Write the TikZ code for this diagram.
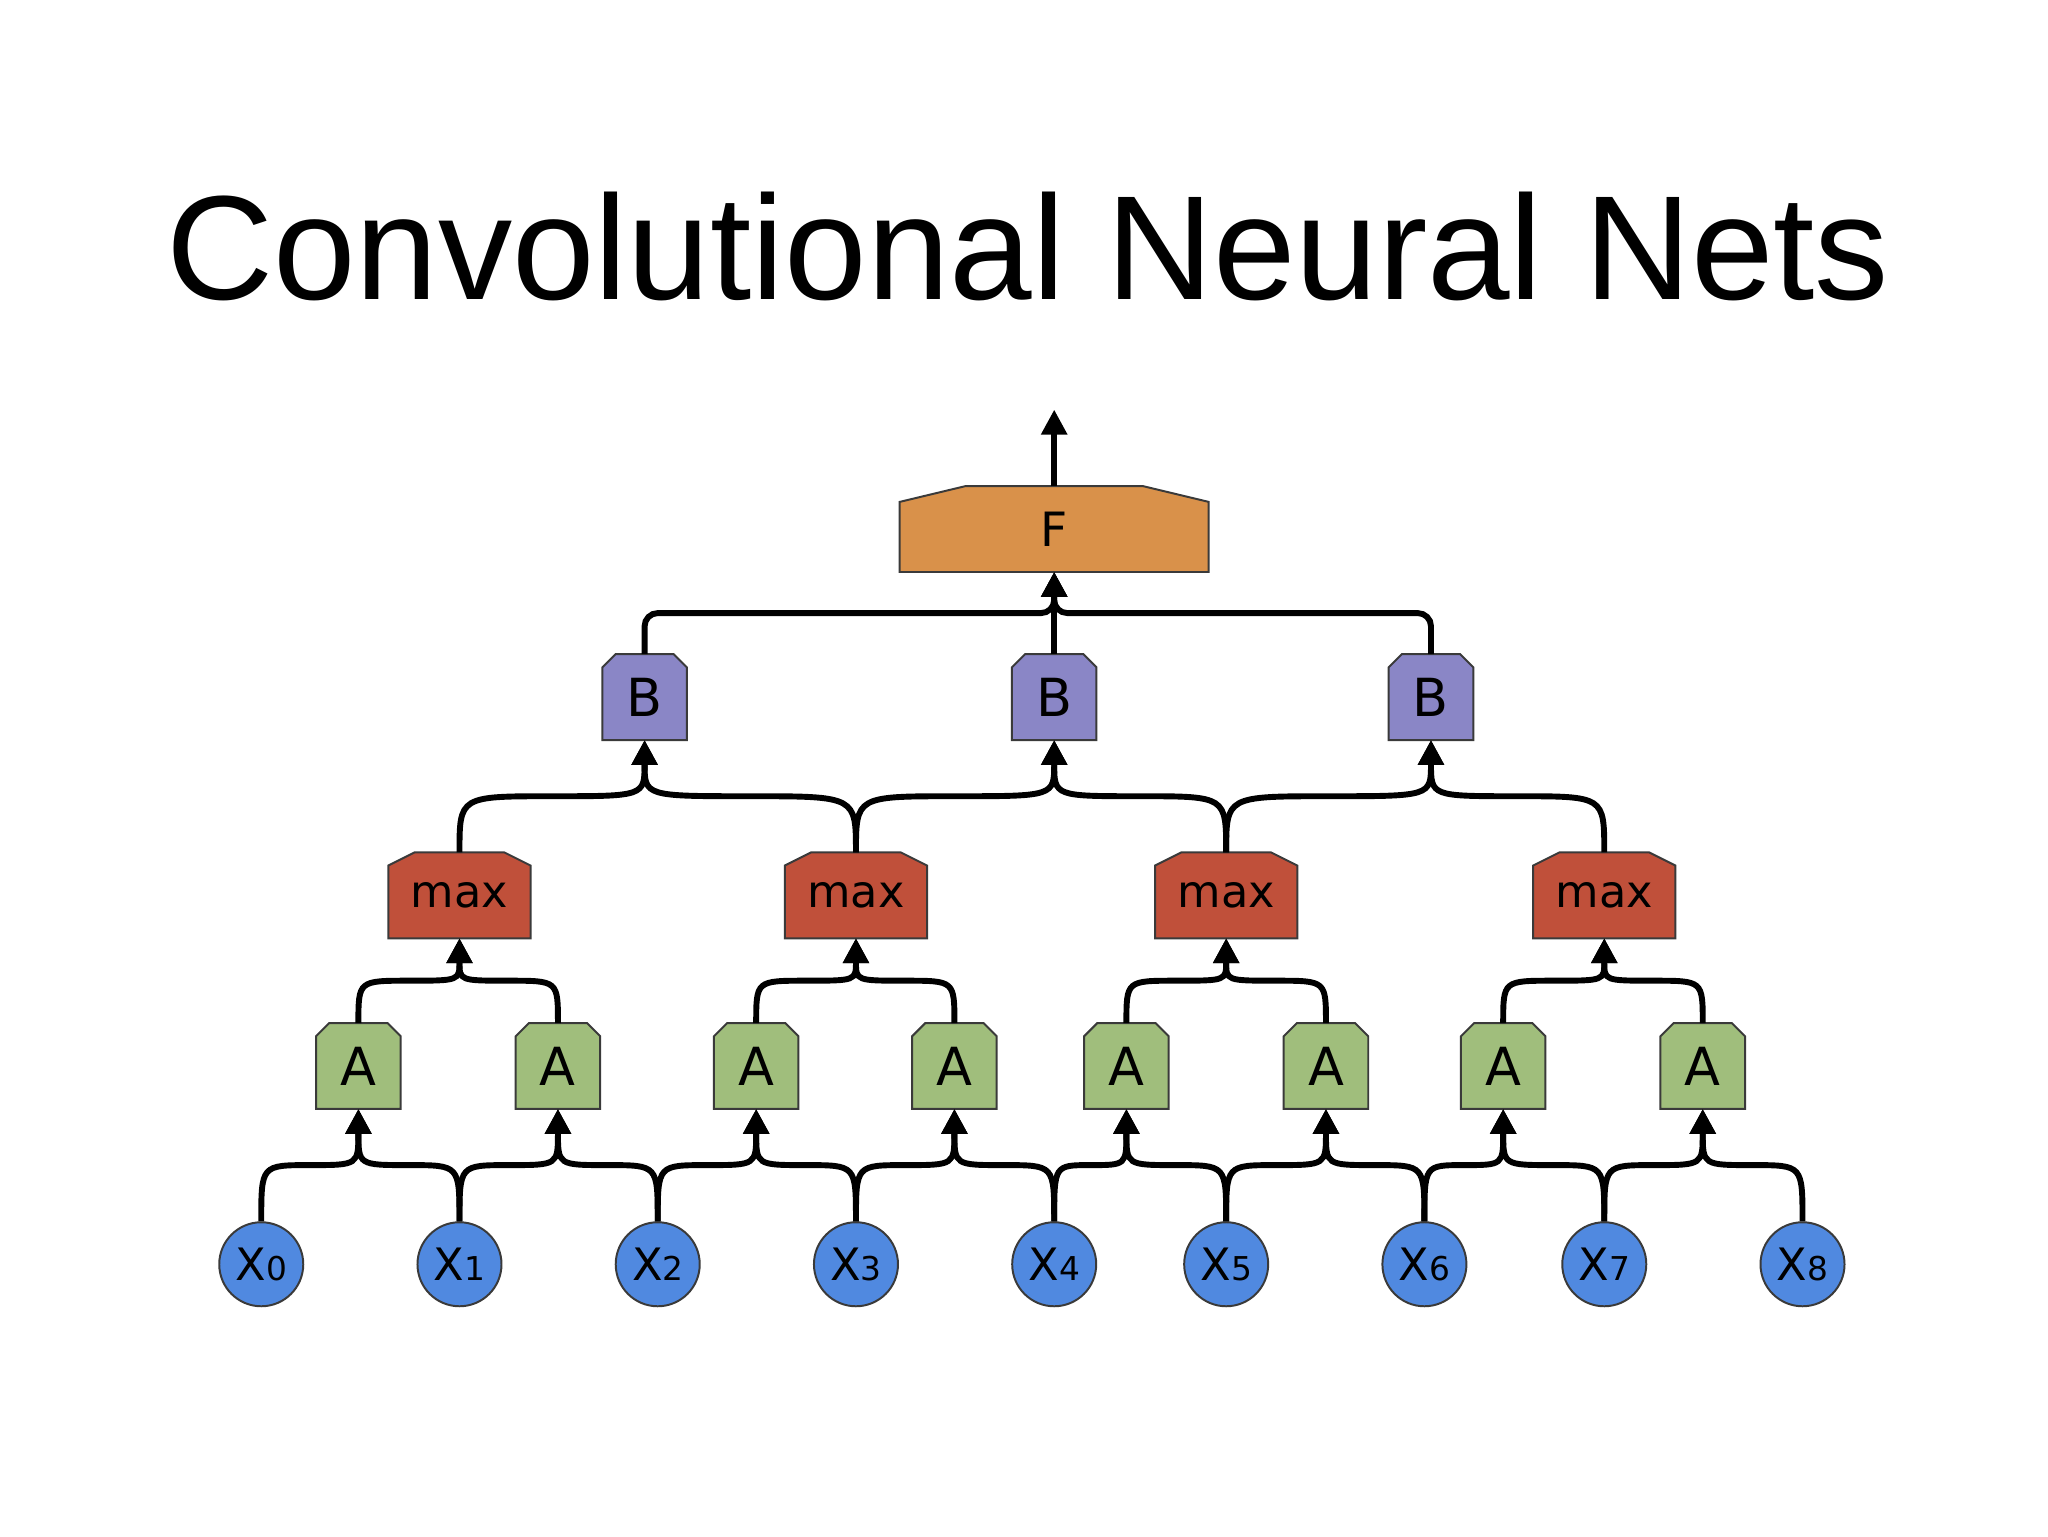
\documentclass[tikz,border=0pt]{standalone}
\usepackage{fontspec}
\setmainfont{Liberation Sans}
\newfontfamily\lblfont{DejaVu Sans}
\usetikzlibrary{calc,arrows.meta}
\definecolor{edge}{HTML}{3A3A3A}
\definecolor{cA}{HTML}{A0BE7C}
\definecolor{cM}{HTML}{C0503A}
\definecolor{cB}{HTML}{8A86C6}
\definecolor{cF}{HTML}{D9914A}
\definecolor{cX}{HTML}{5089E0}
\tikzset{
  box/.style={rectangle, inner sep=0pt, draw=none},
  lbl/.style={font=\lblfont\fontsize{40}{40}\selectfont, inner sep=0pt},
  conn/.style={line width=4.5pt, -{Triangle[length=19pt,width=19pt]}},
  xnode/.style={circle, minimum size=64pt, inner sep=0pt, fill=cX, draw=edge, line width=1.5pt}
}
\newcommand\cnode[9]{%
  \node[box, minimum width=#4pt, minimum height=#5pt] (#1) at (#2,#3) {};
  \filldraw[fill=#8, draw=edge, line width=1.5pt] (#1.south west) -- ($(#1.north west)+(0,#7)$) -- ($(#1.north west)+(#6,0)$) -- ($(#1.north east)+(-#6,0)$) -- ($(#1.north east)+(0,#7)$) -- (#1.south east) -- cycle;
  \node[lbl] at (#1) {#9};}
\newcommand\conn[2]{%
  \draw[conn] let \p1=(#1.north), \p2=(#2.south), \p3=($(\p1)!0.5!(\p2)$) in
    (\p1) .. controls (\x1,\y3) .. (\p3) .. controls (\x2,\y3) .. (\p2);}
\newcommand\xn[3]{\node[xnode] (#1) at (#2,963) {\lblfont\fontsize{34}{34}\selectfont X{\fontsize{25}{25}\selectfont #3}};}
\begin{document}
\begin{tikzpicture}[x=1pt,y=-1pt]
\useasboundingbox (0,0) rectangle (1560,1170);
\node[anchor=base, inner sep=0pt, font=\fontsize{113}{113}\selectfont] (title) at (783,228) {Convolutional Neural Nets};
% inputs
\xn{x0}{199}{0}\xn{x1}{350}{1}\xn{x2}{501}{2}\xn{x3}{652}{3}\xn{x4}{803}{4}
\xn{x5}{934}{5}\xn{x6}{1085}{6}\xn{x7}{1222}{7}\xn{x8}{1373}{8}
% A layer
\cnode{a0}{273}{812}{64}{65}{10}{10}{cA}{A}
\cnode{a1}{425}{812}{64}{65}{10}{10}{cA}{A}
\cnode{a2}{576}{812}{64}{65}{10}{10}{cA}{A}
\cnode{a3}{727}{812}{64}{65}{10}{10}{cA}{A}
\cnode{a4}{858}{812}{64}{65}{10}{10}{cA}{A}
\cnode{a5}{1010}{812}{64}{65}{10}{10}{cA}{A}
\cnode{a6}{1145}{812}{64}{65}{10}{10}{cA}{A}
\cnode{a7}{1297}{812}{64}{65}{10}{10}{cA}{A}
% max layer
\cnode{m0}{350}{682}{108}{65}{20}{10}{cM}{\fontsize{34}{34}\selectfont max}
\cnode{m1}{652}{682}{108}{65}{20}{10}{cM}{\fontsize{34}{34}\selectfont max}
\cnode{m2}{934}{682}{108}{65}{20}{10}{cM}{\fontsize{34}{34}\selectfont max}
\cnode{m3}{1222}{682}{108}{65}{20}{10}{cM}{\fontsize{34}{34}\selectfont max}
% B layer
\cnode{b0}{491}{531}{64}{65}{10}{10}{cB}{B}
\cnode{b1}{803}{531}{64}{65}{10}{10}{cB}{B}
\cnode{b2}{1090}{531}{64}{65}{10}{10}{cB}{B}
% F
\cnode{f}{803}{403}{235}{65}{50}{12}{cF}{\fontsize{36}{36}\selectfont F}
\coordinate (out) at (803,312);
% connectors X->A
\conn{x0}{a0}\conn{x1}{a0}
\conn{x1}{a1}\conn{x2}{a1}
\conn{x2}{a2}\conn{x3}{a2}
\conn{x3}{a3}\conn{x4}{a3}
\conn{x4}{a4}\conn{x5}{a4}
\conn{x5}{a5}\conn{x6}{a5}
\conn{x6}{a6}\conn{x7}{a6}
\conn{x7}{a7}\conn{x8}{a7}
% A->max
\conn{a0}{m0}\conn{a1}{m0}
\conn{a2}{m1}\conn{a3}{m1}
\conn{a4}{m2}\conn{a5}{m2}
\conn{a6}{m3}\conn{a7}{m3}
% max->B
\conn{m0}{b0}\conn{m1}{b0}
\conn{m1}{b1}\conn{m2}{b1}
\conn{m2}{b2}\conn{m3}{b2}
% B->F
\draw[conn, rounded corners=10pt] (b0.north) |- ($(b0.north)!0.5!(f.south)$) -| (f.south);
\draw[conn, rounded corners=10pt] (b2.north) |- ($(b2.north)!0.5!(f.south)$) -| (f.south);
\draw[conn] (b1.north) -- (f.south);
\draw[conn] (f.north) -- (out);
\end{tikzpicture}
\end{document}
